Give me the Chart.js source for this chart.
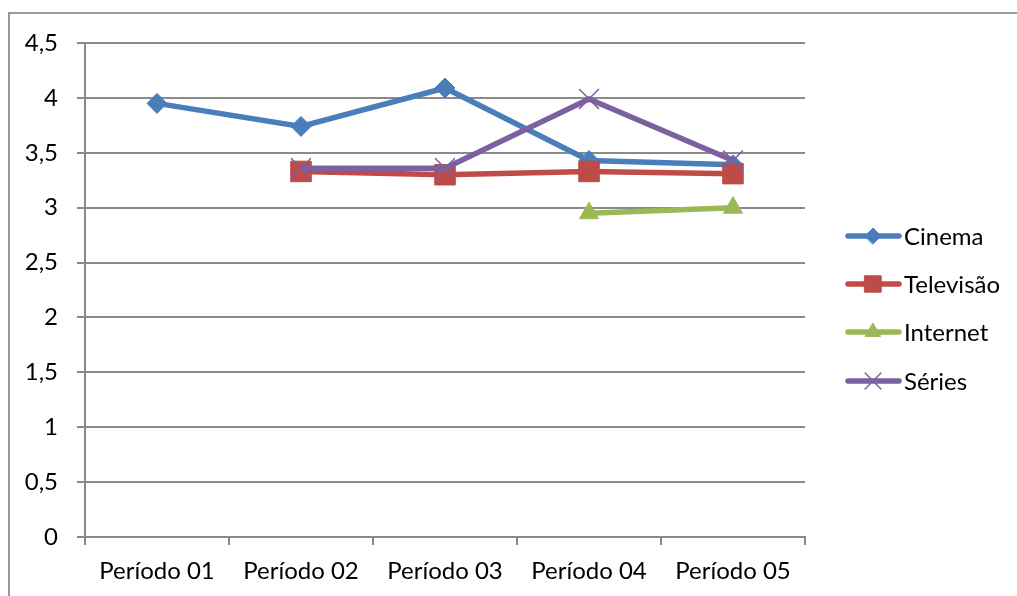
<!DOCTYPE html>
<html>
<head>
<meta charset="utf-8">
<script src="https://cdn.jsdelivr.net/npm/chart.js@4.4.1/dist/chart.umd.min.js"></script>
<style>
  html, body { margin: 0; padding: 0; background: #fff; }
  #wrap { position: relative; width: 1017px; height: 596px; overflow: hidden; }
  #frame { position: absolute; left: 8px; top: 12px; width: 1100px; height: 700px; border: 2px solid #999; box-sizing: border-box; }
  canvas { position: absolute; left: 0; top: 0; }
</style>
</head>
<body>
<div id="wrap">
  <div id="frame"></div>
  <canvas id="chart" width="1017" height="596"></canvas>
</div>
<script>
const periods   = ['Período 01', 'Período 02', 'Período 03', 'Período 04', 'Período 05'];
const cinema    = [3.95, 3.74, 4.09, 3.43, 3.39];
const televisao = [null, 3.33, 3.30, 3.33, 3.31];
const internet  = [null, null, null, 2.95, 3.00];
const series    = [null, 3.36, 3.36, 3.99, 3.43];

const FONT = 'Lato, Carlito, Calibri, sans-serif';
const GRID = '#8a8a8a';

// later series sit on top, like in Excel
function ds(label, data, color, style, radius, bw, order){
  return {
    label, data, order,
    borderColor: color, backgroundColor: color,
    borderWidth: 5.5,
    pointStyle: style, pointRadius: radius, pointHoverRadius: radius,
    pointBackgroundColor: color, pointBorderColor: color, pointBorderWidth: bw,
    tension: 0, spanGaps: false
  };
}

// legend drawn by hand: line with the marker in the middle
const sideLegend = {
  id: 'sideLegend',
  afterDraw(chart){
    const ctx = chart.ctx;
    const rows = [236, 284, 332, 381];
    chart.data.datasets.forEach((d, i) => {
      const y = rows[i];
      ctx.save();
      ctx.strokeStyle = d.borderColor;
      ctx.lineWidth = 5.5;
      ctx.lineCap = 'round';
      ctx.beginPath(); ctx.moveTo(848, y); ctx.lineTo(899, y); ctx.stroke();
      ctx.fillStyle = d.pointBackgroundColor;
      ctx.strokeStyle = d.pointBorderColor;
      ctx.lineWidth = d.pointBorderWidth;
      Chart.helpers.drawPoint(ctx, {
        pointStyle: d.pointStyle, radius: d.pointRadius * 0.8, borderWidth: d.pointBorderWidth, rotation: 0
      }, 873, y);
      ctx.font = '24px ' + FONT;
      ctx.fillStyle = '#000';
      ctx.textBaseline = 'middle';
      ctx.fillText(d.label, 904, y + 1);
      ctx.restore();
    });
  }
};

const chart = new Chart(document.getElementById('chart'), {
  type: 'line',
  data: {
    labels: periods,
    datasets: [
      ds('Cinema', cinema, '#4a7ebb', 'rectRot', 10, 1, 4),
      ds('Televisão', televisao, '#be4b48', 'rect', 14.5, 1, 3),
      ds('Internet', internet, '#98b954', 'triangle', 11, 1, 2),
      ds('Séries', series, '#7d60a0', 'crossRot', 14, 1.5, 1)
    ]
  },
  options: {
    responsive: false,
    animation: false,
    layout: { padding: { left: 0, right: 212, top: 43, bottom: 0 } },
    plugins: { legend: { display: false }, tooltip: { enabled: false } },
    scales: {
      x: {
        offset: true,
        grid: { drawOnChartArea: false, drawTicks: true, tickLength: 8, color: GRID, lineWidth: 2, offset: true },
        border: { color: GRID, width: 2 },
        ticks: { color: '#000', font: { family: FONT, size: 24 }, padding: 12, maxRotation: 0 },
        afterFit(s){ s.height = 59; }
      },
      y: {
        min: 0, max: 4.5,
        grid: { color: GRID, lineWidth: 2, tickLength: 8 },
        border: { color: GRID, width: 2 },
        ticks: {
          stepSize: 0.5, color: '#000', padding: 19,
          font: { family: FONT, size: 24 },
          callback: v => String(v).replace('.', ',')
        },
        afterFit(s){ s.width = 85; }
      }
    }
  },
  plugins: [sideLegend]
});
</script>
</body>
</html>
